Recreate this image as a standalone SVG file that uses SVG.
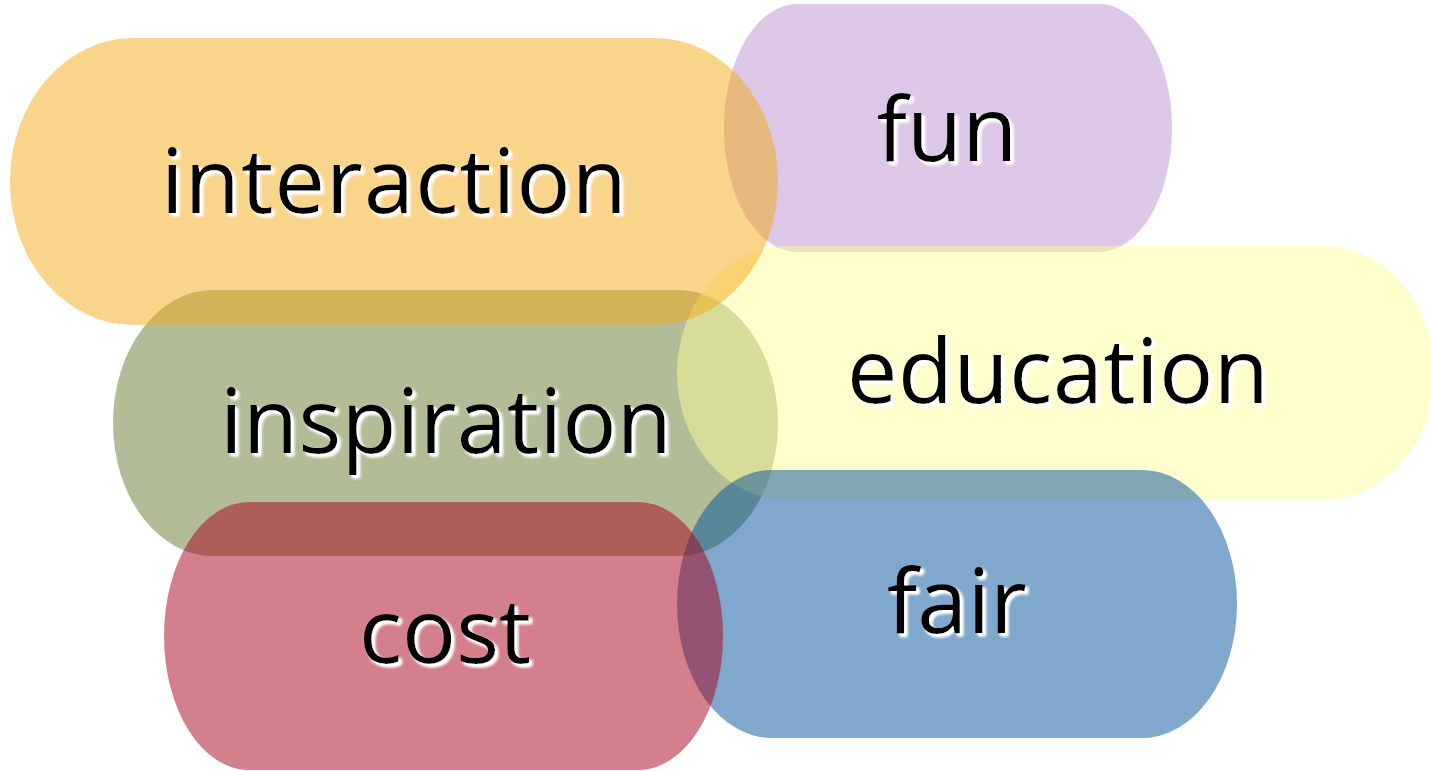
<svg xmlns="http://www.w3.org/2000/svg" width="1431" height="771" viewBox="0 0 1431 771">
<defs>
<filter id="glow" x="-10%" y="-20%" width="130%" height="150%">
<feGaussianBlur in="SourceAlpha" stdDeviation="1.8" result="b"/>
<feOffset in="b" dx="3" dy="3" result="o"/>
<feFlood flood-color="#ffffff"/>
<feComposite in2="o" operator="in" result="s"/>
<feMerge><feMergeNode in="s"/><feMergeNode in="s"/><feMergeNode in="SourceGraphic"/></feMerge>
</filter>
</defs>
<style>
.shape{fill-opacity:0.5}
.lbl{font-family:"Open Sans","Noto Sans","DejaVu Sans",sans-serif;font-size:90px;fill:#000;text-anchor:middle;filter:url(#glow)}
</style>
<rect width="1431" height="771" fill="#ffffff"/>
<g id="node-fun">
<rect class="shape" x="724" y="4" width="448" height="248" rx="73" ry="124" fill="#B991CD"/>
</g>
<g id="node-inspiration">
<rect class="shape" x="113" y="290" width="665" height="266" rx="100" ry="133" fill="#657B31"/>
</g>
<g id="node-education">
<rect class="shape" x="677" y="246" width="757" height="254" rx="110" ry="127" fill="#FDFB99"/>
</g>
<g id="node-fair">
<rect class="shape" x="677" y="470" width="560" height="268" rx="95" ry="134" fill="#014F99"/>
</g>
<g id="node-cost">
<rect class="shape" x="164" y="502" width="559" height="268" rx="85" ry="134" fill="#A70019"/>
</g>
<g id="node-interaction">
<rect class="shape" x="10" y="38" width="768" height="287" rx="123" ry="143.5" fill="#F3A917"/>
</g>
<g id="labels">
<text class="lbl" x="394" y="213" textLength="466">interaction</text>
<text class="lbl" x="947" y="161">fun</text>
<text class="lbl" x="1058" y="403" textLength="422">education</text>
<text class="lbl" x="446" y="453" textLength="452">inspiration</text>
<text class="lbl" x="445" y="663">cost</text>
<text class="lbl" x="957" y="633">fair</text>
</g>
<g id="connectors"/>
</svg>
